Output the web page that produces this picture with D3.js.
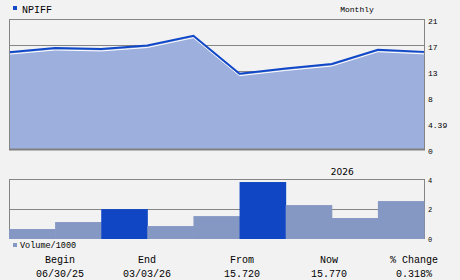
<!DOCTYPE html>
<html>
<head>
<meta charset="utf-8">
<script src="https://cdn.jsdelivr.net/npm/d3@7"></script>
<style>
  body { margin: 0; background: #f2f2f2; }
  svg { display: block; }
</style>
</head>
<body>
<div id="chart"></div>
<script>
// data
var symbol = "NPIFF";
var period = "Monthly";
var months = ["Jun", "Jul", "Aug", "Sep", "Oct", "Nov", "Dec", "Jan", "Feb", "Mar"];
var prices = [15.72, 16.40, 16.24, 16.80, 18.38, 12.25, 13.09, 13.81, 16.12, 15.77];
var volumes = [0.67, 1.14, 2.01, 0.87, 1.54, 3.83, 2.28, 1.41, 2.55];
var volHighlight = [false, false, true, false, false, true, false, false, false];
var priceTicks = ["21", "17", "13", "8", "4.39", "0"];
var volTicks = [0, 2, 4];
var yearLabel = "2026";
var yearIndex = 7;
var footHeads = ["Begin", "End", "From", "Now", "% Change"];
var footVals = ["06/30/25", "03/03/26", "15.720", "15.770", "0.318%"];

var W = 460, H = 280;
var left = 9, right = 424;
var mono = "Liberation Mono, monospace";

var svg = d3.select("#chart")
  .append("svg")
  .attr("width", W)
  .attr("height", H);

svg.append("rect")
  .attr("width", W).attr("height", H)
  .attr("fill", "#f2f2f2");

// price chart
var top1 = 19.5, bot1 = 149.5;
var x = d3.scaleLinear().domain([0, prices.length - 1]).range([left, right]);
var y = d3.scaleLinear().domain([0, 21]).range([bot1, top1]);
var gridPos = d3.scaleLinear().domain([0, priceTicks.length - 1]).range([top1, bot1]);

// gridlines under the area
svg.append("g")
  .selectAll("line")
  .data(priceTicks)
  .enter()
  .append("line")
  .attr("x1", left).attr("x2", right + 1)
  .attr("y1", function(d, i) { return Math.floor(gridPos(i)) + 0.5; })
  .attr("y2", function(d, i) { return Math.floor(gridPos(i)) + 0.5; })
  .attr("stroke", "#858585")
  .attr("stroke-width", 1);

var area = d3.area()
  .x(function(d, i) { return x(i); })
  .y0(y(0))
  .y1(function(d) { return y(d); });

svg.append("path")
  .datum(prices)
  .attr("d", area)
  .attr("fill", "#9db0dd");

var line = d3.line()
  .x(function(d, i) { return x(i); })
  .y(function(d) { return y(d); });

// white highlight just under the line
svg.append("path")
  .datum(prices)
  .attr("d", line)
  .attr("transform", "translate(0,2)")
  .attr("fill", "none")
  .attr("stroke", "#ffffff")
  .attr("stroke-width", 1);

svg.append("path")
  .datum(prices)
  .attr("d", line)
  .attr("fill", "none")
  .attr("stroke", "#1048c8")
  .attr("stroke-width", 2);

// frame
svg.append("line")
  .attr("x1", left + 0.5).attr("x2", left + 0.5)
  .attr("y1", top1).attr("y2", bot1)
  .attr("stroke", "#858585");
svg.append("line")
  .attr("x1", right + 0.5).attr("x2", right + 0.5)
  .attr("y1", top1).attr("y2", bot1)
  .attr("stroke", "#858585");
svg.append("line")
  .attr("x1", left).attr("x2", right + 1)
  .attr("y1", bot1).attr("y2", bot1)
  .attr("stroke", "#808080")
  .attr("stroke-width", 2);

svg.append("g")
  .selectAll("text")
  .data(priceTicks)
  .enter()
  .append("text")
  .attr("x", 428)
  .attr("y", function(d, i) { return gridPos(i) + 4.5; })
  .attr("font-family", mono)
  .attr("font-size", "8px")
  .attr("fill", "#000")
  .text(function(d) { return d; });

// title row
svg.append("rect")
  .attr("x", 13).attr("y", 6)
  .attr("width", 4).attr("height", 4)
  .attr("fill", "#1048c8");
svg.append("text")
  .attr("x", 22).attr("y", 12.5)
  .attr("font-family", mono)
  .attr("font-size", "10px")
  .text(symbol);
svg.append("text")
  .attr("x", 357).attr("y", 11.5)
  .attr("text-anchor", "middle")
  .attr("font-family", mono)
  .attr("font-size", "8px")
  .text(period);

// volume chart
var top2 = 179.5, bot2 = 239;
var xb = d3.scaleBand()
  .domain(d3.range(volumes.length))
  .range([left, right])
  .padding(0);
var yv = d3.scaleLinear().domain([0, 4]).range([bot2, top2]);

svg.append("g")
  .selectAll("line")
  .data(volTicks.filter(function(d) { return d > 0; }))
  .enter()
  .append("line")
  .attr("x1", left).attr("x2", right + 1)
  .attr("y1", function(d) { return Math.floor(yv(d)) + 0.5; })
  .attr("y2", function(d) { return Math.floor(yv(d)) + 0.5; })
  .attr("stroke", "#858585")
  .attr("stroke-width", 1);

svg.append("line")
  .attr("x1", left + 0.5).attr("x2", left + 0.5)
  .attr("y1", top2).attr("y2", bot2)
  .attr("stroke", "#858585");
svg.append("line")
  .attr("x1", right + 0.5).attr("x2", right + 0.5)
  .attr("y1", top2).attr("y2", bot2)
  .attr("stroke", "#858585");

svg.append("g")
  .selectAll("rect")
  .data(volumes)
  .enter()
  .append("rect")
  .attr("x", function(d, i) { return xb(i); })
  .attr("y", function(d) { return yv(d); })
  .attr("width", xb.bandwidth() + 0.5)
  .attr("height", function(d) { return bot2 - yv(d); })
  .attr("fill", function(d, i) { return volHighlight[i] ? "#1046c4" : "#8597c3"; });

svg.append("g")
  .selectAll("text")
  .data(volTicks)
  .enter()
  .append("text")
  .attr("x", 428)
  .attr("y", function(d) { return yv(d) + 3; })
  .attr("font-family", mono)
  .attr("font-size", "7px")
  .text(function(d) { return d; });

svg.append("text")
  .attr("x", x(yearIndex) - 1)
  .attr("y", 175)
  .attr("font-family", "DejaVu Sans, sans-serif")
  .attr("font-size", "9px")
  .text(yearLabel);

// volume legend
svg.append("rect")
  .attr("x", 13).attr("y", 243)
  .attr("width", 4).attr("height", 4)
  .attr("fill", "#8597c3");
svg.append("text")
  .attr("x", 20).attr("y", 247.5)
  .attr("font-family", mono)
  .attr("font-size", "8.5px")
  .text("Volume/1000");

// footer
var footX = [60, 147, 242, 329, 414];
svg.append("g")
  .selectAll("text")
  .data(footHeads)
  .enter()
  .append("text")
  .attr("x", function(d, i) { return footX[i]; })
  .attr("y", 262.5)
  .attr("text-anchor", "middle")
  .attr("font-family", mono)
  .attr("font-size", "10px")
  .text(function(d) { return d; });
svg.append("g")
  .selectAll("text")
  .data(footVals)
  .enter()
  .append("text")
  .attr("x", function(d, i) { return footX[i]; })
  .attr("y", 276.5)
  .attr("text-anchor", "middle")
  .attr("font-family", mono)
  .attr("font-size", "10px")
  .text(function(d) { return d; });
</script>
</body>
</html>
